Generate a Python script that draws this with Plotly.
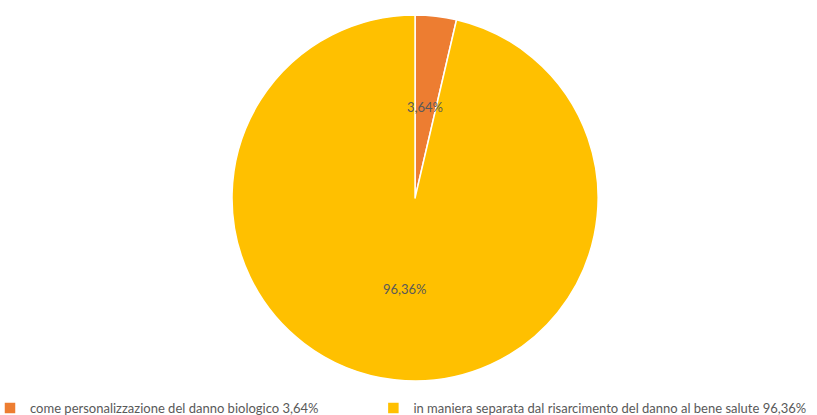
import numpy as np
import plotly.graph_objects as go

labels = ['come personalizzazione del danno biologico 3,64%',
          'in maniera separata dal risarcimento del danno al bene salute 96,36%']
values = [3.64, 96.36]
value_text = ['3,64%', '96,36%']
colors = ['#ED7D31', '#FFC000']

FONT = 'Lato'
TEXT_COLOR = '#595959'

# pie domain (paper coords)
dom_x = [0.016, 1.0]
dom_y = [0.082, 0.964]

# pad the first legend entry so the second one starts near the middle
legend_labels = [labels[0] + '\u00a0' * 15, labels[1]]

fig = go.Figure(go.Pie(
    labels=legend_labels, values=values,
    marker=dict(colors=colors, line=dict(color='white', width=1.5)),
    sort=False, direction='clockwise', rotation=0,
    textinfo='none', hoverinfo='label+value',
    domain=dict(x=dom_x, y=dom_y),
))

# data labels at half radius, mid-angle of each slice
W, H = 817, 415
cx = (dom_x[0] + dom_x[1]) / 2 * W
cy = (dom_y[0] + dom_y[1]) / 2 * H
r = min((dom_x[1] - dom_x[0]) * W, (dom_y[1] - dom_y[0]) * H) / 2
total = sum(values)
start = 0.0
for v, t in zip(values, value_text):
    mid = (start + v / 2) / total * 2 * np.pi
    start += v
    px_ = cx + 0.5 * r * np.sin(mid)
    py_ = cy + 0.5 * r * np.cos(mid)
    fig.add_annotation(x=px_ / W, y=py_ / H, xref='paper', yref='paper',
                       xanchor='center', yanchor='middle',
                       text=t, showarrow=False,
                       font=dict(family=FONT, size=13, color=TEXT_COLOR))

fig.update_layout(
    width=W, height=H,
    paper_bgcolor='white',
    font=dict(family=FONT, size=13, color=TEXT_COLOR),
    margin=dict(t=0, b=0, l=0, r=0, autoexpand=False),
    showlegend=True,
    legend=dict(orientation='h', x=-10 / W, y=-8 / H, xanchor='left', yanchor='bottom',
                itemwidth=30,
                font=dict(family=FONT, size=13, color=TEXT_COLOR),
                bgcolor='rgba(0,0,0,0)'),
)

fig.write_html("out.html", config={'displayModeBar': False},
               post_script="document.body.style.margin='0';")
